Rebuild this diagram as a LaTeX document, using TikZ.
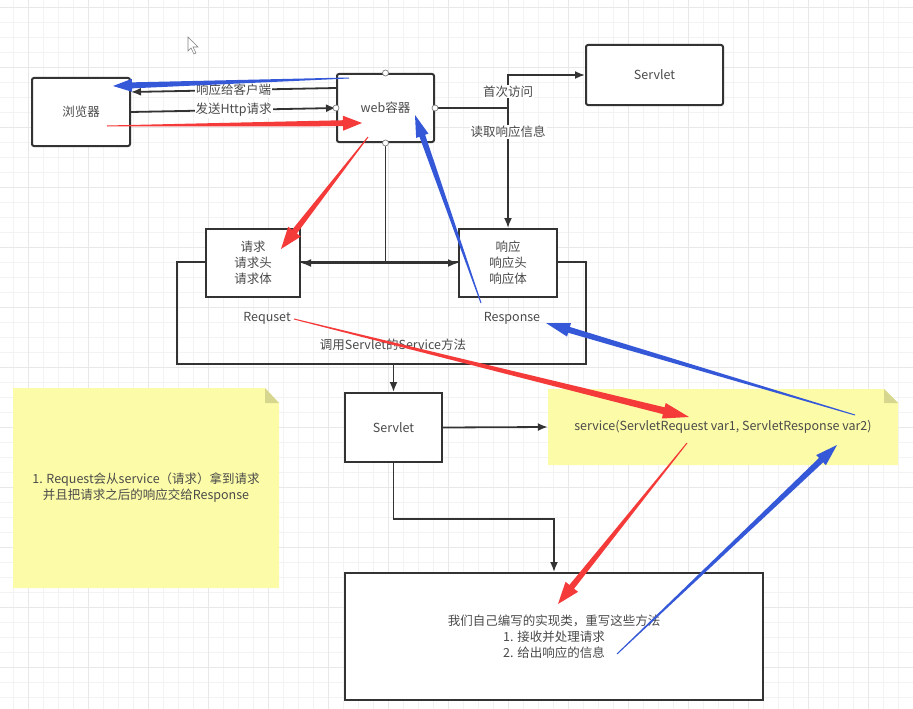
\documentclass[tikz,border=0pt]{standalone}
\usepackage{fontspec}
\setmainfont{Noto Sans CJK SC}
\usetikzlibrary{arrows.meta,calc}

\definecolor{linec}{HTML}{333333}
\definecolor{txtc}{HTML}{4A4A4A}
\definecolor{gridmin}{HTML}{F3F3F3}
\definecolor{gridmaj}{HTML}{E8E8E8}
\definecolor{notey}{HTML}{FCFCA8}
\definecolor{notefold}{HTML}{D6D68E}
\definecolor{redarr}{HTML}{F53A3A}
\definecolor{bluearr}{HTML}{3558D8}

% tapered arrow: colour, tail, tip, half shaft, half head, head length
\newcommand{\fatarrow}[6]{%
  \coordinate (hb) at ($(#3)!#6!(#2)$);
  \fill[#1] ($(#2)!0.5pt!90:(#3)$) -- ($(hb)!#4!-90:(#2)$) -- ($(hb)!#5!-90:(#2)$) -- (#3)
    -- ($(hb)!#5!90:(#2)$) -- ($(hb)!#4!90:(#2)$) -- ($(#2)!0.5pt!-90:(#3)$) -- cycle;}

\begin{document}
\begin{tikzpicture}
        [x=1pt, y=-1pt,
        every node/.style={font=\fontsize{12.5}{16}\selectfont, text=txtc},
        box/.style={draw=linec, line width=2pt, fill=white, rounded corners=2pt,
                    inner sep=0pt, align=center},
        sqbox/.style={box, rounded corners=0pt},
        lbl/.style={fill=white, inner sep=1pt},
        conn/.style={draw=linec, line width=1.8pt, -{Latex[length=10pt,width=8pt]}},
        port/.style={circle, draw=gray, fill=white, line width=0.7pt,
                     inner sep=0pt, minimum size=6pt}]
        \fill[white] (0,0) rectangle (913,709);
        \useasboundingbox (0,0) rectangle (913,709);
        % grid
        \foreach \x in {13,28,...,913} \draw[gridmin, line width=0.8pt] (\x,0) -- (\x,709);
        \foreach \y in {7,22,...,709} \draw[gridmin, line width=0.8pt] (0,\y) -- (913,\y);
        \foreach \x in {28,88,...,913} \draw[gridmaj, line width=0.9pt] (\x,0) -- (\x,709);
        \foreach \y in {7,67,...,709} \draw[gridmaj, line width=0.9pt] (0,\y) -- (913,\y);
        % cursor
        \draw[gray, line width=0.6pt, fill=white] (188,37) -- (188,51) -- (191,48) -- (194,54)
            -- (196,53) -- (193,47) -- (198,47) -- cycle;

        % notes
        \fill[notey] (13,388) -- (265,388) -- (279,403) -- (279,588) -- (13,588) -- cycle;
        \fill[notefold] (265,388) -- (279,403) -- (265,403) -- cycle;
        \fill[notey] (548,389) -- (884,389) -- (898,403) -- (898,465) -- (548,465) -- cycle;
        \fill[notefold] (884,389) -- (898,403) -- (884,403) -- cycle;
        \node[minimum width=266pt, minimum height=200pt, align=center] (note1) at (146,488)
            {1. Request会从service（请求）拿到请求\\并且把请求之后的响应交给Response};
        \node[minimum width=350pt, minimum height=76pt, inner sep=0pt] (note2) at (723,427)
            {service(ServletRequest var1, ServletResponse var2)};

        \node[box, minimum width=98pt, minimum height=68pt] (browser) at (81,112) {浏览器};
        \node[box, minimum width=97pt, minimum height=68pt] (web) at (385.5,108) {web容器};
        \node[box, minimum width=137pt, minimum height=60pt] (srvtop) at (654.5,75) {Servlet};
        \node[sqbox, fill=none, minimum width=409pt, minimum height=102pt] (outer) at (381.5,313) {};
        \node[sqbox, minimum width=94pt, minimum height=68pt] (req) at (253,263) {请求\\请求头\\请求体};
        \node[sqbox, minimum width=98pt, minimum height=68pt] (resp) at (508,263) {响应\\响应头\\响应体};
        \node (requset) at (267,318) {Requset};
        \node (response) at (512,318) {Response};
        \node (callsvc) at (393,345) {调用Servlet的Service方法};
        \node[sqbox, minimum width=97pt, minimum height=69pt] (srvmid) at (393.5,427.5) {Servlet};
        \node[sqbox, minimum width=418pt, minimum height=127pt] (impl) at (554,636.5)
            {我们自己编写的实现类，重写这些方法\\1. 接收并处理请求\\2. 给出响应的信息};

        % connectors
        \draw[conn] ([yshift=20pt]web.west) -- node[lbl] {响应给客户端} ([yshift=20pt]browser.east);
        \draw[conn] (browser.east) -- node[lbl] {发送Http请求} (web.west);
        \coordinate (fork) at (508,108);
        \draw[conn] (web.east) -- (fork) -- (fork |- srvtop.west) node[lbl, midway] {首次访问}
            -- (srvtop.west);
        \draw[conn] (fork) -- node[lbl, pos=0.2] {读取响应信息} (resp.north);
        \coordinate (split) at (web.south |- req.east);
        \draw[draw=linec, line width=1.8pt] (web.south) -- (split);
        \draw[conn] (split) -- (req.east);
        \draw[conn] (split) -- (resp.west);
        \draw[conn] (srvmid.north |- outer.south) -- (srvmid.north);
        \draw[conn] (srvmid.east) -- (note2.west);
        \coordinate (elbow) at ($(srvmid.south)+(0,56)$);
        \draw[conn] (srvmid.south) -- (elbow) -| (impl.north);
        \foreach \a in {north,south,east,west} \node[port] at (web.\a) {};

        % red and blue marks
        \coordinate (r1s) at (107,126); \coordinate (r1e) at (362,123);
        \coordinate (r2s) at (368,137); \coordinate (r2e) at (281,249);
        \coordinate (r3s) at (294,319); \coordinate (r3e) at (689,417);
        \coordinate (r4s) at (687,443); \coordinate (r4e) at (558,604);
        \coordinate (b1s) at (349,78);  \coordinate (b1e) at (113,86);
        \coordinate (b2s) at (481,303); \coordinate (b2e) at (415,115);
        \coordinate (b3s) at (855,415); \coordinate (b3e) at (546,323);
        \coordinate (b4s) at (617,654); \coordinate (b4e) at (837,445);
        \fatarrow{redarr}{r1s}{r1e}{3pt}{7.5pt}{19pt}
        \fatarrow{redarr}{r2s}{r2e}{3pt}{8pt}{22pt}
        \fatarrow{redarr}{r3s}{r3e}{3.5pt}{8pt}{26pt}
        \fatarrow{redarr}{r4s}{r4e}{3pt}{8pt}{22pt}
        \fatarrow{bluearr}{b1s}{b1e}{3pt}{6.5pt}{19pt}
        \fatarrow{bluearr}{b2s}{b2e}{3pt}{6.5pt}{22pt}
        \fatarrow{bluearr}{b3s}{b3e}{3pt}{7pt}{24pt}
        \fatarrow{bluearr}{b4s}{b4e}{3pt}{7pt}{22pt}
\end{tikzpicture}
\end{document}
